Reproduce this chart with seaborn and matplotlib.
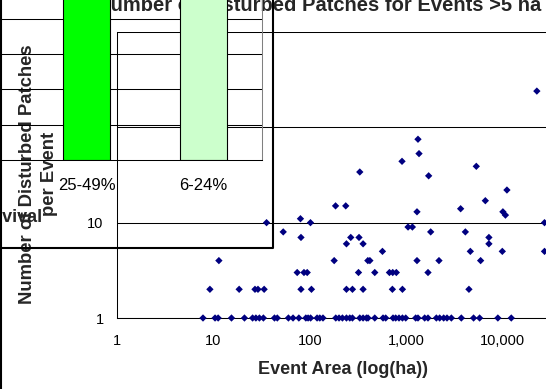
import matplotlib
matplotlib.use("Agg")
import matplotlib.pyplot as plt
import seaborn as sns
import pandas as pd
from matplotlib.lines import Line2D
from matplotlib.ticker import FixedLocator, FixedFormatter, NullLocator

# ---------------- data ----------------
area_ha = [
    # 1 patch
    7.8, 10.4, 11.2, 15.4, 21, 25.5, 27.6, 30, 33, 43, 46, 60, 67, 77, 91, 96, 102,
    119, 127, 137, 186, 201, 218, 240, 260, 277, 330, 357, 387, 402, 472, 575, 613,
    730, 778, 842, 914, 989, 1254, 1325, 1555, 1683, 2055, 2224, 2448, 2650, 2940,
    3730, 5000, 5775, 8930, 12300,
    # 2 patches
    9.2, 18.5, 27, 29, 33.6, 81, 104, 240, 277, 357, 719, 914, 4475,
    # 3 patches
    74, 87, 94, 320, 472, 670, 725, 790, 1683,
    # 4 patches
    11.4, 179, 400, 420, 1294, 2188, 5916,
    # 5 patches
    567, 4627, 9930, 27200,
    # 6 .. 11 patches
    240, 357, 7210,
    81, 266, 324, 7210,
    53, 1795, 4108,
    1045, 1159,
    35.6, 101.6, 27200,
    80,
    # larger counts
    10700, 1294, 10070, 3670, 185, 236, 6620, 11090, 1710, 330, 5335, 905, 1358,
    1325, 22660,
]
patch_count = (
    [1] * 52 + [2] * 13 + [3] * 9 + [4] * 7 + [5] * 4 + [6] * 3 + [7] * 4 + [8] * 3
    + [9] * 2 + [10] * 3 + [11]
    + [12, 13, 13, 14, 15, 15, 17, 22, 31, 34, 39, 44, 53, 75, 240]
)

survival_classes = ["25-49%", "6-24%"]
survival_values = [55, 50]
bar_colors = ["#00FF00", "#CCFFCC"]

x_ticks = [1, 10, 100, 1000, 10000, 100000]
x_tick_labels = ["1", "10", "100", "1,000", "10,000", "100,000"]
y_ticks = [1, 10, 100, 1000]
y_tick_labels = ["1", "10", "", ""]
inset_grid = [10, 20, 30, 40, 50]

title_text = "Number of Disturbed Patches for Events >5 ha"
xlabel_text = "Event Area (log(ha))"
ylabel_text = "Number of Disturbed Patches\nper Event"
inset_label = "Survival"

# ---------------- layout helpers ----------------
W, H = 546, 389


def rect(x0, y0, x1, y1):
    return [x0 / W, 1 - y1 / H, (x1 - x0) / W, (y1 - y0) / H]


def fx(x):
    return x / W


def fy(y):
    return 1 - y / H


sns.set_style("white")
plt.rcParams["font.family"] = ["Liberation Sans", "DejaVu Sans"]

fig = plt.figure(figsize=(W / 100, H / 100), dpi=100)
fig.patch.set_facecolor("white")

# ---------------- main scatter ----------------
ax = fig.add_axes(rect(117, 32, 599, 318), zorder=0)
ax.set_facecolor("none")
df = pd.DataFrame({"area": area_ha, "patches": patch_count})
sns.scatterplot(data=df, x="area", y="patches", marker="D", s=14, color="#000080",
                edgecolor="none", linewidth=0, ax=ax, clip_on=False, zorder=3)
ax.set_xscale("log")
ax.set_yscale("log")
ax.set_xlim(1, 1e5)
ax.set_ylim(1, 1000)
ax.xaxis.set_major_locator(FixedLocator(x_ticks))
ax.xaxis.set_major_formatter(FixedFormatter(x_tick_labels))
ax.xaxis.set_minor_locator(NullLocator())
ax.yaxis.set_major_locator(FixedLocator(y_ticks))
ax.yaxis.set_major_formatter(FixedFormatter(y_tick_labels))
ax.yaxis.set_minor_locator(NullLocator())
ax.tick_params(axis="both", which="major", direction="out", length=3.6, width=0.75,
               color="black", labelsize=10.5, labelcolor="black")
ax.tick_params(axis="x", pad=8)
ax.tick_params(axis="y", pad=6)
ax.set_xlabel("")
ax.set_ylabel("")
ax.grid(False)
ax.yaxis.grid(True, color="black", lw=0.75)
for s in ["top", "right"]:
    ax.spines[s].set_visible(False)
for s in ["left", "bottom"]:
    ax.spines[s].set_color("black")
    ax.spines[s].set_linewidth(0.75)

ax.text(fx(96), fy(11), title_text, transform=fig.transFigure, ha="left",
        va="baseline", fontsize=14.5, fontweight="bold")
ax.text(fx(38.5), fy(174), ylabel_text, transform=fig.transFigure, rotation=90,
        ha="center", va="center", multialignment="center", fontsize=13.3,
        fontweight="bold", linespacing=1.4)
ax.text(fx(343), fy(370), xlabel_text, transform=fig.transFigure, ha="center",
        va="center", fontsize=13, fontweight="bold")

# ---------------- inset bar chart ----------------
ax2 = fig.add_axes(rect(-89, -52, 262, 160), zorder=2)
ax2.set_facecolor("none")
df2 = pd.DataFrame({"survival": survival_classes, "value": survival_values})
sns.barplot(data=df2, x="survival", y="value", hue="survival", palette=bar_colors,
            legend=False, width=0.40, edgecolor="black", linewidth=0.8,
            saturation=1, ax=ax2)
ax2.set_xlim(-1.5, 1.5)
ax2.set_ylim(0, 60)
ax2.yaxis.set_major_locator(FixedLocator(inset_grid))
ax2.yaxis.grid(True, color="black", lw=0.75)
ax2.xaxis.grid(False)
ax2.set_axisbelow(True)
ax2.tick_params(axis="y", left=False, labelleft=False)
ax2.tick_params(axis="x", which="major", length=0, labelsize=12, pad=13,
                labelcolor="black")
ax2.xaxis.set_minor_locator(FixedLocator([0.5, 1.5]))
ax2.tick_params(axis="x", which="minor", length=4.3, width=0.75, color="black",
                direction="out")
ax2.set_xlabel("")
ax2.set_ylabel("")
ax2.spines["left"].set_visible(False)
ax2.spines["top"].set_visible(False)
ax2.spines["bottom"].set_color("black")
ax2.spines["bottom"].set_linewidth(0.75)
ax2.spines["right"].set_color("#808080")
ax2.spines["right"].set_linewidth(0.75)

ax2.text(fx(43), fy(221.5), inset_label, transform=fig.transFigure, ha="right",
         va="baseline", fontsize=13, fontweight="bold")

# inset chart border and outer chart border
fig.add_artist(Line2D([fx(273), fx(273), fx(-5)], [fy(-5), fy(248), fy(248)],
                      color="black", lw=1.5, zorder=5))
fig.add_artist(Line2D([fx(1), fx(1)], [0, 1], color="black", lw=1.5, zorder=5))

fig.savefig("out.png", dpi=100)
